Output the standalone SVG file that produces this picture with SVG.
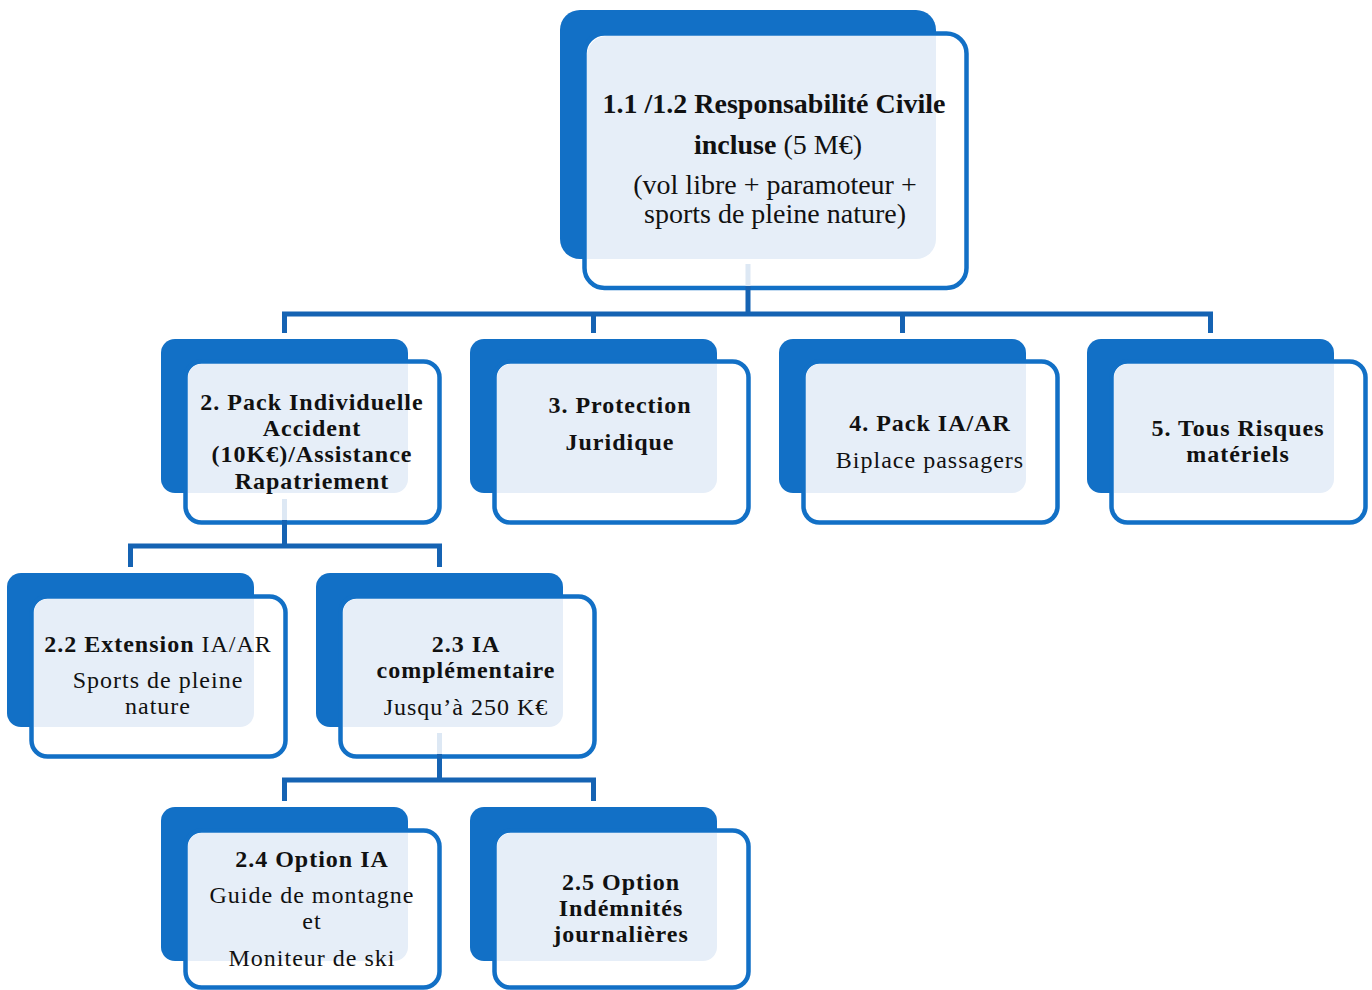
<svg xmlns="http://www.w3.org/2000/svg" width="1372" height="990" viewBox="0 0 1372 990">
<style>
.dk{fill:#1270c6}
.wh{fill:#fff;stroke:#1270c6;stroke-width:4.5}
.lt{fill:#e6eef8}
.cn{stroke:#1563b3;stroke-width:5;fill:none}
.cl{stroke:#dde8f4;stroke-width:5;fill:none}
text{font-family:"Liberation Serif","Times New Roman",serif;fill:#111;text-anchor:middle}
.b{font-weight:bold}
.t1{font-size:28px}
.t2{font-size:24px;letter-spacing:1px}
</style>
<rect width="1372" height="990" fill="#fff"/>
<g id="root">
<rect class="dk" x="560" y="10" width="376" height="249" rx="20"/>
<rect class="wh" x="584.5" y="33.5" width="382" height="254.5" rx="20"/>
<path class="lt" d="M607 36H936V239A20 20 0 0 1 916 259H587V56A20 20 0 0 1 607 36Z"/>
<text class="t1 b" x="774" y="113">1.1 /1.2 Responsabilité Civile</text>
<text class="t1" x="778" y="154"><tspan class="b">incluse</tspan> (5 M€)</text>
<text class="t1" x="775" y="194">(vol libre + paramoteur +</text>
<text class="t1" x="775" y="223">sports de pleine nature)</text>
</g>
<g id="n2">
<rect class="dk" x="161" y="339" width="247" height="154" rx="14"/>
<rect class="wh" x="185.5" y="361.5" width="254" height="161" rx="16"/>
<path class="lt" d="M202 364H408V479A14 14 0 0 1 394 493H188V378A14 14 0 0 1 202 364Z"/>
<text class="t2 b" x="312" y="410">2. Pack Individuelle</text>
<text class="t2 b" x="312" y="436">Accident</text>
<text class="t2 b" x="312" y="462">(10K€)/Assistance</text>
<text class="t2 b" x="312" y="489">Rapatriement</text>
</g>
<g id="n3">
<rect class="dk" x="470" y="339" width="247" height="154" rx="14"/>
<rect class="wh" x="494.5" y="361.5" width="254" height="161" rx="16"/>
<path class="lt" d="M511 364H717V479A14 14 0 0 1 703 493H497V378A14 14 0 0 1 511 364Z"/>
<text class="t2 b" x="620" y="413">3. Protection</text>
<text class="t2 b" x="620" y="450">Juridique</text>
</g>
<g id="n4">
<rect class="dk" x="779" y="339" width="247" height="154" rx="14"/>
<rect class="wh" x="803.5" y="361.5" width="254" height="161" rx="16"/>
<path class="lt" d="M820 364H1026V479A14 14 0 0 1 1012 493H806V378A14 14 0 0 1 820 364Z"/>
<text class="t2 b" x="930" y="431">4. Pack IA/AR</text>
<text class="t2" x="930" y="468">Biplace passagers</text>
</g>
<g id="n5">
<rect class="dk" x="1087" y="339" width="247" height="154" rx="14"/>
<rect class="wh" x="1111.5" y="361.5" width="254" height="161" rx="16"/>
<path class="lt" d="M1128 364H1334V479A14 14 0 0 1 1320 493H1114V378A14 14 0 0 1 1128 364Z"/>
<text class="t2 b" x="1238" y="436">5. Tous Risques</text>
<text class="t2 b" x="1238" y="462">matériels</text>
</g>
<g id="n22">
<rect class="dk" x="7" y="573" width="247" height="154" rx="14"/>
<rect class="wh" x="31.5" y="596.5" width="254" height="160" rx="16"/>
<path class="lt" d="M48 599H254V713A14 14 0 0 1 240 727H34V613A14 14 0 0 1 48 599Z"/>
<text class="t2" x="158" y="652"><tspan class="b">2.2 Extension</tspan> IA/AR</text>
<text class="t2" x="158" y="688">Sports de pleine</text>
<text class="t2" x="158" y="714">nature</text>
</g>
<g id="n23">
<rect class="dk" x="316" y="573" width="247" height="154" rx="14"/>
<rect class="wh" x="340.5" y="596.5" width="254" height="160" rx="16"/>
<path class="lt" d="M357 599H563V713A14 14 0 0 1 549 727H343V613A14 14 0 0 1 357 599Z"/>
<text class="t2 b" x="466" y="652">2.3 IA</text>
<text class="t2 b" x="466" y="678">complémentaire</text>
<text class="t2" x="466" y="715">Jusqu’à 250 K€</text>
</g>
<g id="n24">
<rect class="dk" x="161" y="807" width="247" height="154" rx="14"/>
<rect class="wh" x="185.5" y="830.5" width="254" height="157" rx="16"/>
<path class="lt" d="M202 833H408V947A14 14 0 0 1 394 961H188V847A14 14 0 0 1 202 833Z"/>
<text class="t2 b" x="312" y="867">2.4 Option IA</text>
<text class="t2" x="312" y="903">Guide de montagne</text>
<text class="t2" x="312" y="929">et</text>
<text class="t2" x="312" y="966">Moniteur de ski</text>
</g>
<g id="n25">
<rect class="dk" x="470" y="807" width="247" height="154" rx="14"/>
<rect class="wh" x="494.5" y="830.5" width="254" height="157" rx="16"/>
<path class="lt" d="M511 833H717V947A14 14 0 0 1 703 961H497V847A14 14 0 0 1 511 833Z"/>
<text class="t2 b" x="621" y="890">2.5 Option</text>
<text class="t2 b" x="621" y="916">Indémnités</text>
<text class="t2 b" x="621" y="942">journalières</text>
</g>
<g id="connectors">
<path class="cl" d="M748 264V286M284.5 499V520M439.5 733V754"/>
<path class="cn" d="M748 286V314M282 314H1213M284.5 314V333M593.5 314V333M902.5 314V333M1210.5 314V333"/>
<path class="cn" d="M284.5 520V546M128 546H442M130.5 546V567M439.5 546V567"/>
<path class="cn" d="M439.5 754V780M282 780H596M284.5 780V801M593.5 780V801"/>
</g>
</svg>
